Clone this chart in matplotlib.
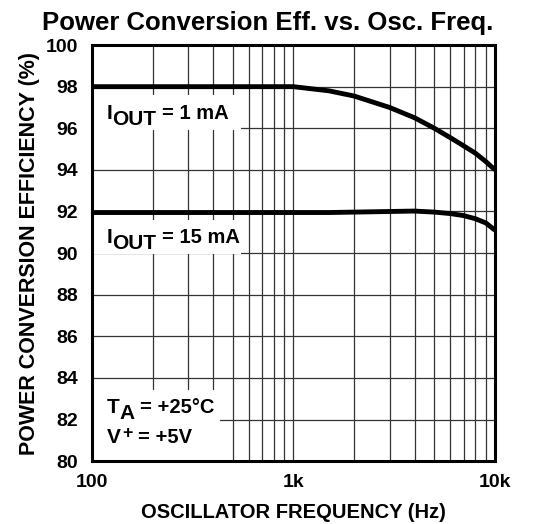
import matplotlib
matplotlib.use("Agg")
import matplotlib.pyplot as plt
from matplotlib.patches import Rectangle
from matplotlib.ticker import FixedLocator, LogLocator, NullFormatter

plt.rcParams["font.family"] = "Liberation Sans"
plt.rcParams["font.weight"] = "bold"

freq = [100, 200, 500, 1000, 1500, 2000, 3000, 4000, 5000, 6000, 7000, 8000, 9000, 10000]
eff_1ma = [98.0, 98.0, 98.0, 98.0, 97.8, 97.55, 97.0, 96.5, 96.0, 95.55, 95.15, 94.8, 94.4, 94.0]
eff_15ma = [91.95, 91.95, 91.95, 91.95, 91.95, 91.97, 92.0, 92.02, 91.97, 91.9, 91.8, 91.65, 91.45, 91.1]

y_ticks = [80, 82, 84, 86, 88, 90, 92, 94, 96, 98, 100]
x_ticks = [100, 1000, 10000]
x_tick_labels = ["100", "1k", "10k"]

fig = plt.figure(figsize=(5.34, 5.24), dpi=100)
ax = fig.add_axes([0.172, 0.120, 0.755, 0.794])

ax.plot(freq, eff_1ma, color="black", lw=3.5, zorder=4, solid_capstyle="butt")
ax.plot(freq, eff_15ma, color="black", lw=3.5, zorder=4, solid_capstyle="butt")

ax.set_xscale("log")
ax.set_xlim(100, 10000)
ax.set_ylim(80, 100)
ax.set_yticks(y_ticks)
ax.xaxis.set_major_locator(FixedLocator(x_ticks))
ax.set_xticklabels(x_tick_labels)
ax.xaxis.set_minor_locator(LogLocator(base=10, subs=range(2, 10)))
ax.xaxis.set_minor_formatter(NullFormatter())
ax.tick_params(axis="both", which="both", length=0, labelsize=14)
ax.tick_params(axis="x", pad=9)
ax.tick_params(axis="y", pad=10)

ax.set_axisbelow(True)
ax.grid(True, which="both", axis="x", color="#333333", lw=0.9)
ax.grid(True, which="major", axis="y", color="#333333", lw=0.9)
for s in ax.spines.values():
    s.set_linewidth(2.2)
    s.set_zorder(5)

# white label boxes hiding the grid
for (x0, y0, w, h) in [(0.0, 0.796, 0.37, 0.084), (0.0, 0.498, 0.37, 0.081), (0.0, 0.0, 0.318, 0.17)]:
    ax.add_patch(Rectangle((x0, y0), w, h, transform=ax.transAxes,
                           facecolor="white", edgecolor="none", zorder=2))


def sub_label(x, y, main, sub, rest, size_main=15, size_rest=14.5, sub_drop=-4, sup=False):
    t1 = ax.text(x, y, main, transform=ax.transAxes, fontsize=size_main,
                 va="baseline", ha="left", zorder=3)
    if sup:
        t2 = ax.annotate(sub, xy=(1, 1), xycoords=t1, xytext=(1, -4),
                         textcoords="offset points", fontsize=size_main * 0.85,
                         va="center", ha="left", zorder=3)
    else:
        t2 = ax.annotate(sub, xy=(1, 0), xycoords=t1, xytext=(0, sub_drop),
                         textcoords="offset points", fontsize=size_main,
                         va="bottom", ha="left", zorder=3)
    ax.annotate(rest, xy=(1, 0), xycoords=(t2, t1), xytext=(4, 0),
                textcoords="offset points", fontsize=size_rest,
                va="bottom", ha="left", zorder=3)


sub_label(0.037, 0.822, "I", "OUT", "= 1 mA")
sub_label(0.037, 0.524, "I", "OUT", "= 15 mA")
sub_label(0.037, 0.115, "T", "A", "= +25°C")
sub_label(0.037, 0.043, "V", "+", "= +5V", sup=True)

fig.text(0.502, 0.943, "Power Conversion Eff. vs. Osc. Freq.", fontsize=18.5,
         fontweight="bold", ha="center", va="baseline")
ax.set_xlabel("OSCILLATOR FREQUENCY (Hz)", fontsize=14.5, fontweight="bold", labelpad=9)
ax.set_ylabel("POWER CONVERSION EFFICIENCY (%)", fontsize=15.5, fontweight="bold", labelpad=4)

fig.savefig("out.png", dpi=100)
